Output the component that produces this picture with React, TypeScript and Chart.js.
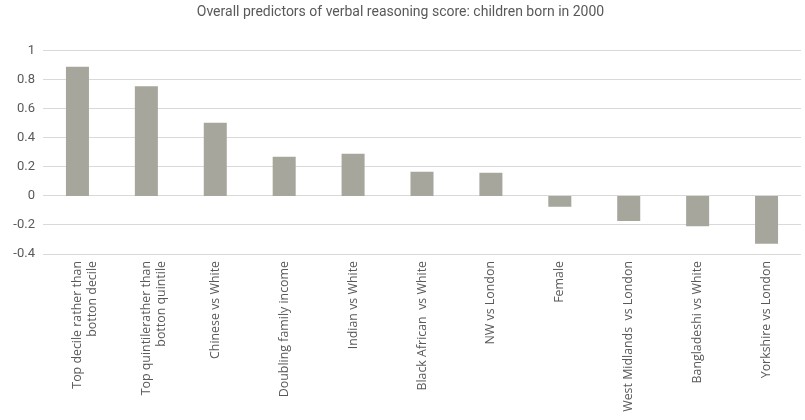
import React, { useEffect, useRef } from "react";
import { Chart, registerables } from "chart.js";

Chart.register(...registerables);

const TITLE = "Overall predictors of verbal reasoning score: children born in 2000";

const categories: (string | string[])[] = [
  ["Top decile rather than", "botton decile"],
  ["Top quintilerather than", "botton quintile"],
  "Chinese vs White",
  "Doubling family income",
  "Indian vs White",
  "Black African  vs White",
  "NW vs London",
  "Female",
  "West Midlands  vs London",
  "Bangladeshi vs White",
  "Yorkshire vs London",
];

const values: number[] = [0.89, 0.755, 0.505, 0.27, 0.29, 0.166, 0.159, -0.074, -0.173, -0.208, -0.33];

const yMin = -0.4;
const yMax = 1;
const yStep = 0.2;

export default function App() {
  const ref = useRef<HTMLCanvasElement | null>(null);

  useEffect(() => {
    if (!ref.current) return;
    const chart = new Chart(ref.current, {
      type: "bar",
      data: {
        labels: categories,
        datasets: [
          {
            data: values,
            backgroundColor: "#a6a69c",
            borderWidth: 0,
            categoryPercentage: 1,
            barPercentage: 0.334,
          },
        ],
      },
      options: {
        animation: false,
        responsive: false,
        maintainAspectRatio: false,
        layout: { padding: { left: 0, right: 4, top: 0, bottom: 0 } },
        plugins: {
          legend: { display: false },
          tooltip: { enabled: false },
          title: {
            display: true,
            text: TITLE,
            color: "#595959",
            font: { family: "Roboto", size: 14, weight: "normal" },
            padding: { top: 4, bottom: 30 },
          },
        },
        scales: {
          x: {
            grid: { display: false, drawTicks: false },
            border: { display: false },
            ticks: {
              color: "#595959",
              font: { family: "'Open Sans'", size: 12.4 },
              minRotation: 90,
              maxRotation: 90,
              autoSkip: false,
              padding: 7,
            },
            afterFit: (s: any) => {
              s.height = 166;
            },
          },
          y: {
            min: yMin,
            max: yMax,
            grid: { color: "#d9d9d9", drawTicks: false, lineWidth: 1 },
            border: { display: false },
            ticks: {
              stepSize: yStep,
              color: "#595959",
              font: { family: "Roboto", size: 13 },
              padding: 8,
              callback: (v: any) => {
                const n = Math.round(Number(v) * 10) / 10;
                return n === 0 ? "0" : String(n);
              },
            },
            afterFit: (s: any) => {
              s.width = 43;
            },
          },
        },
      },
    });
    return () => chart.destroy();
  }, []);

  return (
    <div style={{ position: "fixed", left: 0, top: 0, width: 805, height: 420, background: "#fff" }}>
      <canvas ref={ref} width={805} height={420} />
    </div>
  );
}
